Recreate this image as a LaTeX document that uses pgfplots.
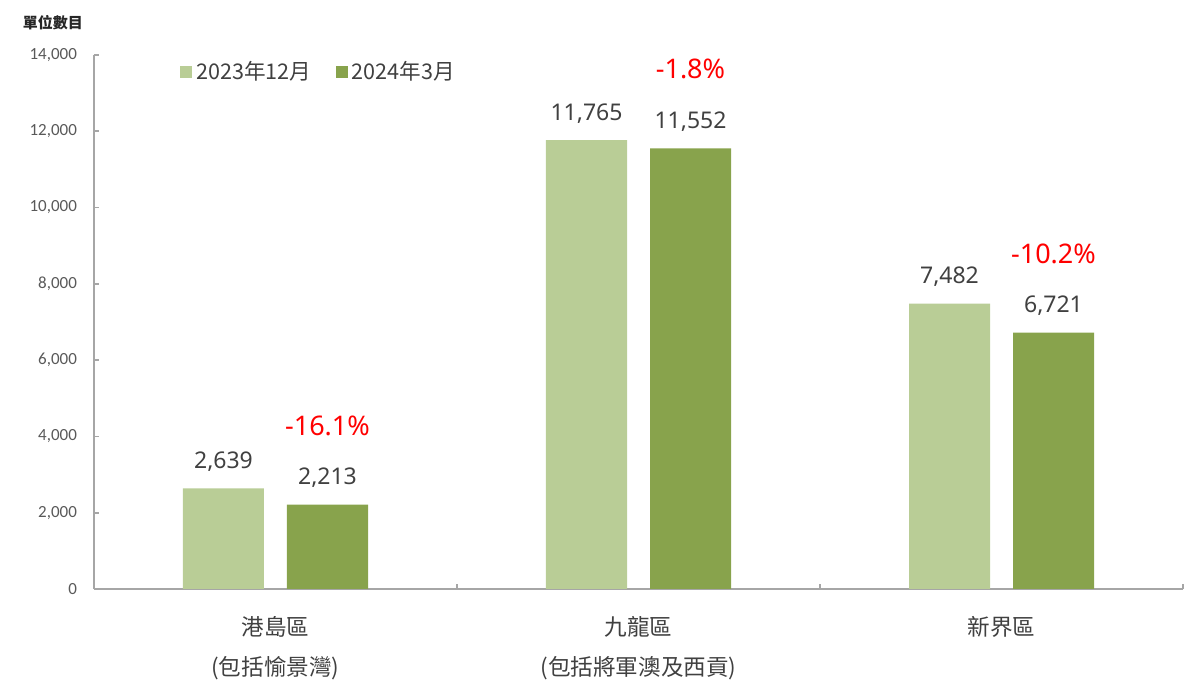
\documentclass[border=0pt]{standalone}
\usepackage{fontspec}
\usepackage{pgfplots}
\pgfplotsset{compat=1.18}
\setmainfont{Noto Sans}
\newfontfamily\cjk{Noto Sans CJK TC}
\newfontfamily\carlito{Carlito}
\definecolor{lightgreen}{HTML}{B9CD96}
\definecolor{darkgreen}{HTML}{88A34C}
\definecolor{txtgray}{HTML}{404040}
\definecolor{tickgray}{HTML}{595959}
\definecolor{axgray}{HTML}{A6A6A6}
\newcommand\fs[1]{\fontsize{#1}{1.2\dimexpr#1\relax}\selectfont}

\begin{document}
\begin{tikzpicture}
\useasboundingbox (-47pt,-55pt) rectangle (553pt,294.5pt);
\begin{axis}[
    at={(0,0)}, anchor=south west,
    scale only axis, clip=false,
    width=544.5pt, height=267pt,
    ybar=11.5pt, bar width=40.5pt,
    xmin=0, xmax=3, ymin=0, ymax=14000,
    axis lines=left,
    axis line style={-, draw=axgray, line width=0.8pt},
    tick align=inside,
    major tick length=2.5pt,
    tick style={draw=axgray, line width=0.8pt},
    xtick={0,1,2,3}, xticklabels={},
    ytick={0,2000,...,14000},
    scaled y ticks=false,
    /pgf/number format/assume math mode=true,
    /pgf/number format/fixed,
    /pgf/number format/1000 sep={,},
    yticklabel style={font=\carlito\fs{8.5pt}, text=tickgray, xshift=-5pt},
    nodes near coords,
    every node near coord/.append style={font=\fs{11.5pt}, text=txtgray, yshift=5pt},
    legend columns=2,
    legend style={at={(0.079,0.968)}, anchor=west, draw=none, fill=none,
        inner sep=0pt, font=\cjk\fs{10.8pt}, text=txtgray,
        /tikz/every even column/.append style={column sep=10pt}},
    legend image code/.code={\fill[#1] (0pt,-3pt) rectangle (6pt,3pt);},
]
\addplot[fill=lightgreen, draw=none] coordinates {(0.5,2639) (1.5,11765) (2.5,7482)};
\addplot[fill=darkgreen, draw=none] coordinates {(0.5,2213) (1.5,11552) (2.5,6721)};
\legend{2023年12月, 2024年3月}

\node[text=red, font=\fs{13.5pt}] at (axis cs:0.5,2213) [xshift=26pt, yshift=39.5pt] {-16.1\%};
\node[text=red, font=\fs{13.5pt}] at (axis cs:1.5,11552) [xshift=26pt, yshift=39.5pt] {-1.8\%};
\node[text=red, font=\fs{13.5pt}] at (axis cs:2.5,6721) [xshift=26pt, yshift=39.5pt] {-10.2\%};

\node[text=txtgray, font=\cjk\fs{11.3pt}] at (axis cs:0.5,0) [yshift=-19pt] {港島區};
\node[text=txtgray, font=\cjk\fs{11.3pt}] at (axis cs:0.5,0) [yshift=-39.5pt] {(包括愉景灣)};
\node[text=txtgray, font=\cjk\fs{11.3pt}] at (axis cs:1.5,0) [yshift=-19pt] {九龍區};
\node[text=txtgray, font=\cjk\fs{11.3pt}] at (axis cs:1.5,0) [yshift=-39.5pt] {(包括將軍澳及西貢)};
\node[text=txtgray, font=\cjk\fs{11.3pt}] at (axis cs:2.5,0) [yshift=-19pt] {新界區};
\end{axis}
\node[font=\cjk\bfseries\fs{7.5pt}, text=black!85] at (-20.5pt,283pt) {單位數目};
\end{tikzpicture}
\end{document}
